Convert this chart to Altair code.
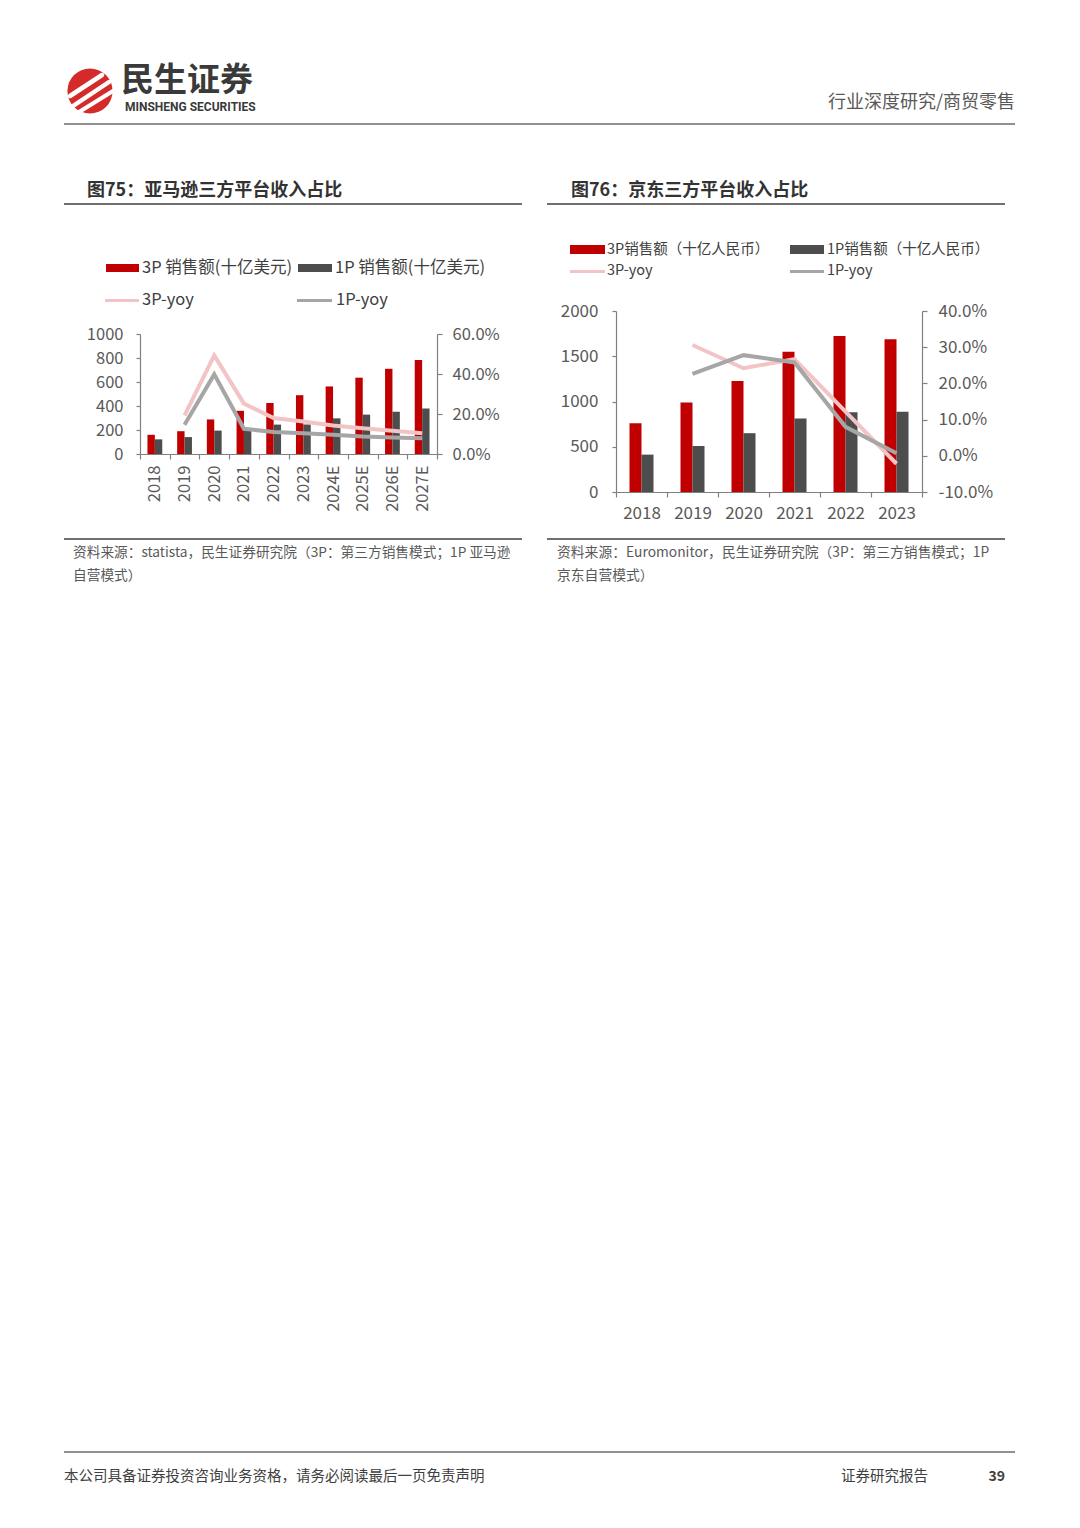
import altair as alt
import pandas as pd

FONT = "Noto Sans CJK SC"
RED = "#C00000"
DARK = "#4D4D4D"
PINK = "#F2C4C5"
LGRAY = "#A6A6A6"
TXT = "#404040"
AX = "#808080"
LAB = "#595959"

# ---------------- data: Amazon (图75) ----------------
amz_years = ["2018", "2019", "2020", "2021", "2022", "2023", "2024E", "2025E", "2026E", "2027E"]
amz_3p = [160, 190, 288, 360, 425, 490, 563, 636, 710, 783]
amz_1p = [122, 141, 195, 200, 245, 246, 297, 328, 353, 379]
amz_3p_yoy = [None, 0.193, 0.493, 0.252, 0.180, 0.162, 0.143, 0.129, 0.116, 0.104]
amz_1p_yoy = [None, 0.146, 0.398, 0.126, 0.110, 0.104, 0.096, 0.087, 0.082, 0.079]

# ---------------- data: JD (图76) ----------------
jd_years = ["2018", "2019", "2020", "2021", "2022", "2023"]
jd_3p = [759, 990, 1227, 1550, 1724, 1688]
jd_1p = [413, 508, 650, 812, 880, 886]
jd_3p_yoy = [None, 0.306, 0.242, 0.267, 0.122, -0.022]
jd_1p_yoy = [None, 0.226, 0.278, 0.258, 0.080, 0.007]

amz_y_ticks = [0, 200, 400, 600, 800, 1000]
amz_r_ticks = [0, 0.2, 0.4, 0.6]
jd_y_ticks = [0, 500, 1000, 1500, 2000]
jd_r_ticks = [-0.1, 0.0, 0.1, 0.2, 0.3, 0.4]


def bar_df(years, vals):
    return pd.DataFrame({"year": years, "value": vals})


def line_df(years, y3, y1):
    rows = []
    for y, a, b in zip(years, y3, y1):
        if a is not None:
            rows.append({"year": y, "series": "3P-yoy", "value": a})
        if b is not None:
            rows.append({"year": y, "series": "1P-yoy", "value": b})
    return pd.DataFrame(rows)


ONE = alt.Data(values=[{}])


def txt(s, x, y, size, color=TXT, weight="normal", align="left", font=FONT):
    return alt.Chart(ONE).mark_text(
        text=s, align=align, baseline="middle", fontSize=size, font=font,
        fontWeight=weight, color=color
    ).encode(x=alt.value(x), y=alt.value(y))


def seg(x1, y1, x2, y2, color, width, cap="butt"):
    return alt.Chart(ONE).mark_rule(color=color, strokeWidth=width, strokeCap=cap).encode(
        x=alt.value(x1), y=alt.value(y1), x2=alt.value(x2), y2=alt.value(y2))


def box(x1, y1, x2, y2, color, opacity=1.0):
    return alt.Chart(ONE).mark_rect(color=color, opacity=opacity).encode(
        x=alt.value(x1), y=alt.value(y1), x2=alt.value(x2), y2=alt.value(y2))


def make_chart(years, v3, v1, y3, y1, W, H, top, ymax, yticks, rdom, rticks,
               bar_w, xlab_angle, xlab_size, xlab_pad, lab_size, lpad, rpad, decor):
    xaxis = alt.Axis(title=None, labelAngle=xlab_angle, tickBand="extent", labelFontSize=xlab_size,
                     labelPadding=xlab_pad, tickSize=5, labelColor=LAB, domainColor=AX, tickColor=AX)
    xenc = alt.X("year:N", sort=years, scale=alt.Scale(paddingInner=0, paddingOuter=0), axis=xaxis)
    yenc = alt.Y("value:Q", scale=alt.Scale(domain=[0, ymax], range=[H, top], nice=False, zero=True),
                 axis=alt.Axis(title=None, orient="left", values=yticks, format="d", labelFontSize=lab_size,
                               labelPadding=lpad, tickSize=4, labelColor=LAB, domainColor=AX, tickColor=AX))
    b3 = alt.Chart(bar_df(years, v3)).mark_bar(color=RED, width=bar_w, xOffset=-bar_w / 2).encode(
        x=xenc, y=yenc)
    b1 = alt.Chart(bar_df(years, v1)).mark_bar(color=DARK, width=bar_w, xOffset=bar_w / 2).encode(
        x=xenc, y=yenc)
    bars = alt.layer(b3, b1)
    lines = alt.Chart(line_df(years, y3, y1)).mark_line(strokeWidth=4).encode(
        x=xenc,
        y=alt.Y("value:Q", scale=alt.Scale(domain=rdom, range=[H, top], nice=False, zero=False),
                axis=alt.Axis(title=None, orient="right", values=rticks, format=".1%",
                              labelExpr="replace(datum.label, '\u2212', '-')",
                              labelFontSize=lab_size, labelPadding=rpad, tickSize=5,
                              labelColor=LAB, domainColor=AX, tickColor=AX)),
        color=alt.Color("series:N", scale=alt.Scale(domain=["3P-yoy", "1P-yoy"], range=[PINK, LGRAY]),
                        legend=None),
    )
    return alt.layer(bars, lines, *decor).resolve_scale(y="independent").properties(
        width=W, height=H)


# ---------- left panel decorations (page coords -> group coords) ----------
LX, LY = 140, 311


def L(x):
    return x - LX


def LYY(y):
    return y - LY


left_decor = [
    box(L(8), LYY(8), L(9), LYY(9), "#ffffff", 0.0),  # page anchor
    # header
    alt.Chart(ONE).mark_circle(color="#D42B2A", opacity=1).encode(
        x=alt.value(L(90)), y=alt.value(LYY(91)), size=alt.value(2040)),
    seg(L(70), LYY(96), L(102), LYY(75), "#ffffff", 4.5, "round"),
    seg(L(73), LYY(106), L(109), LYY(82), "#ffffff", 4.5, "round"),
    seg(L(79), LYY(112), L(113), LYY(91), "#ffffff", 4, "round"),
    txt("民生证券", L(121), LYY(81), 33, "#3A3A3A", "bold"),
    txt("MINSHENG SECURITIES", L(125), LYY(107), 12, "#3A3A3A", "bold", font="Roboto"),
    txt("行业深度研究/商贸零售", L(1015), LYY(103), 18, LAB, align="right"),
    seg(L(64), LYY(124), L(1015), LYY(124), "#909090", 2),
    # title
    txt("图75：亚马逊三方平台收入占比", L(87), LYY(191), 18, "#333333", "bold"),
    seg(L(64), LYY(204), L(522), LYY(204), "#404040", 1.5),
    # legend
    box(L(106), LYY(264), L(139), LYY(272), RED),
    txt("3P 销售额(十亿美元)", L(142), LYY(268), 16.5),
    box(L(298), LYY(264), L(332), LYY(272), DARK),
    txt("1P 销售额(十亿美元)", L(335), LYY(268), 16.5),
    seg(L(105), LYY(300.5), L(139), LYY(300.5), PINK, 3),
    txt("3P-yoy", L(142), LYY(300), 16.5),
    seg(L(297), LYY(300.5), L(332), LYY(300.5), LGRAY, 3),
    txt("1P-yoy", L(336), LYY(300), 16.5),
    # source
    seg(L(64), LYY(539), L(522), LYY(539), "#404040", 1.5),
    txt("资料来源：statista，民生证券研究院（3P：第三方销售模式；1P 亚马逊", L(73), LYY(553), 13.7, LAB),
    txt("自营模式）", L(73), LYY(576), 13.7, LAB),
    # footer
    seg(L(64), LYY(1452), L(1015), LYY(1452), "#909090", 2),
    txt("本公司具备证券投资咨询业务资格，请务必阅读最后一页免责声明", L(64), LYY(1477), 14.5, TXT),
    txt("证券研究报告", L(841), LYY(1477), 14.5, TXT),
    txt("39", L(1005), LYY(1477), 14, TXT, "bold", align="right"),
]

RX, RY = 616, 311


def R(x):
    return x - RX


def RYY(y):
    return y - RY


right_decor = [
    txt("图76：京东三方平台收入占比", R(571), RYY(191), 18, "#333333", "bold"),
    seg(R(547), RYY(204), R(1005), RYY(204), "#404040", 1.5),
    box(R(570), RYY(245), R(605), RYY(254), RED),
    txt("3P销售额（十亿人民币）", R(607), RYY(249.5), 14.5),
    box(R(790), RYY(245), R(824), RYY(254), DARK),
    txt("1P销售额（十亿人民币）", R(827), RYY(249.5), 14.5),
    seg(R(570), RYY(271.5), R(605), RYY(271.5), PINK, 3),
    txt("3P-yoy", R(607), RYY(271), 14.5),
    seg(R(790), RYY(271.5), R(824), RYY(271.5), LGRAY, 3),
    txt("1P-yoy", R(827), RYY(271), 14.5),
    seg(R(547), RYY(539), R(1005), RYY(539), "#404040", 1.5),
    txt("资料来源：Euromonitor，民生证券研究院（3P：第三方销售模式；1P", R(557), RYY(553), 13.8, LAB),
    txt("京东自营模式）", R(557), RYY(576), 13.8, LAB),
]

left = make_chart(amz_years, amz_3p, amz_1p, amz_3p_yoy, amz_1p_yoy,
                  W=297, H=143, top=23, ymax=1000, yticks=amz_y_ticks, rdom=[0, 0.6], rticks=amz_r_ticks,
                  bar_w=7.4, xlab_angle=270, xlab_size=16.5, xlab_pad=6, lab_size=16.5,
                  lpad=13, rpad=10, decor=left_decor)

right = make_chart(jd_years, jd_3p, jd_1p, jd_3p_yoy, jd_1p_yoy,
                   W=306, H=181, top=0, ymax=2000, yticks=jd_y_ticks, rdom=[-0.1, 0.4], rticks=jd_r_ticks,
                   bar_w=12, xlab_angle=0, xlab_size=17, xlab_pad=8, lab_size=17,
                   lpad=14, rpad=11, decor=right_decor)

chart = alt.hconcat(left, right, spacing=179, bounds="flush").properties(
    padding=0
).configure_view(stroke=None).configure_axis(
    labelFont=FONT, grid=False, domainWidth=1.2, tickWidth=1.2
)

chart.save("out.html", embed_options={"renderer": "svg", "actions": False})
